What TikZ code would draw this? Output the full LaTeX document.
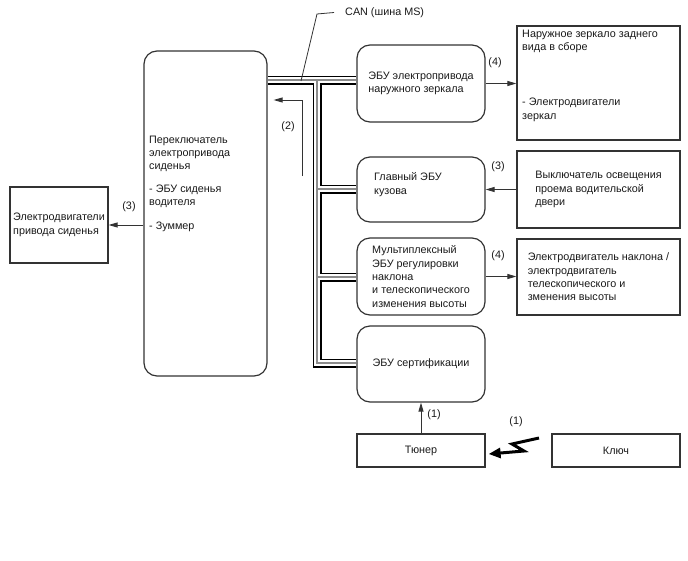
\documentclass[tikz,border=0pt]{standalone}
\usepackage{fontspec}
\setmainfont{Liberation Sans}
\usetikzlibrary{arrows.meta,backgrounds,calc}
\definecolor{LineGray}{HTML}{333333}
\definecolor{BusGray}{HTML}{8C8C8C}

\begin{document}
\begin{tikzpicture}[x=1pt, y=-1pt, line join=miter,
    every node/.style={font=\fontsize{10.8}{13.4}\selectfont, text=black!90, inner sep=0pt},
    ecu/.style={draw=LineGray, line width=1.2pt, rounded corners=13pt},
    part/.style={draw=LineGray, line width=1.2pt},
    sig/.style={draw=LineGray, line width=0.9pt, -{Triangle[length=9pt,width=5pt]}},
    bolt/.style={draw=black, line width=3pt, -{Triangle[length=12pt,width=10pt]}},
    canbus/.style={postaction={draw=black, line width=9pt},
                   postaction={draw=white, line width=5.5pt},
                   postaction={draw=BusGray, line width=1.2pt}}]
        \useasboundingbox (0,0) rectangle (688,560);

        % Boxes
        \node[ecu, minimum width=123pt, minimum height=325pt] (seatsw) at (205.5,213.5) {};
        \node[part, minimum width=98pt, minimum height=76pt, align=left] (seatmot) at (59,225) {Электродвигатели\\привода сиденья};
        \node[ecu, minimum width=128pt, minimum height=77pt, align=left] (mirecu) at (421,83.5) {ЭБУ электропривода\\наружного зеркала};
        \node[part, minimum width=163pt, minimum height=114pt] (mirror) at (598.5,83) {};
        \node[ecu, minimum width=128pt, minimum height=65pt] (bodyecu) at (421,189.5) {};
        \node[part, minimum width=163pt, minimum height=77pt, align=left] (doorsw) at (598.5,189.5) {Выключатель освещения\\проема водительской\\двери};
        \node[ecu, minimum width=128pt, minimum height=77pt, align=left] (tiltecu) at (421,276.5) {Мультиплексный\\ЭБУ регулировки\\наклона\\и телескопического\\изменения высоты};
        \node[part, minimum width=163pt, minimum height=76pt, align=left] (tiltmot) at (598.5,277) {Электродвигатель наклона /\\электродвигатель\\телескопического и\\зменения высоты};
        \node[ecu, minimum width=128pt, minimum height=76pt] (certecu) at (421,364) {ЭБУ сертификации};
        \node[part, minimum width=128pt, minimum height=33pt] (tuner) at (421,450.5) {Тюнер};
        \node[part, minimum width=128pt, minimum height=33pt] (key) at (616,450.5) {Ключ};

        % Texts placed inside the boxes
        \node[anchor=north west, align=left] (seatswtxt) at (149,135.5) {Переключатель\\электропривода\\сиденья\\[9pt]- ЭБУ сиденья\\водителя\\[10pt]- Зуммер};
        \node[anchor=north west, align=left] (mirrortxt) at (522,29.5) {Наружное зеркало заднего\\вида в сборе\\[42pt]- Электродвигатели\\зеркал};
        \node[anchor=north west, align=left] (bodyecutxt) at (374,172.5) {Главный ЭБУ\\кузова};

        % CAN bus
        \coordinate (busT) at (317,80);
        \coordinate (busB) at (317,363);
        \coordinate (busBody) at (317,189);
        \coordinate (busTilt) at (317,277);
        \begin{scope}[on background layer]
            \path[canbus] (seatsw.east |- busT) -- (mirecu.west |- busT)
                (busT) |- (certecu.west |- busB)
                (busBody) -- (bodyecu.west |- busBody)
                (busTilt) -- (tiltecu.west |- busTilt);
        \end{scope}
        \coordinate (canA) at (301,81);
        \coordinate (canB) at (317,14);
        \node[anchor=west] (canlbl) at (345,12.5) {CAN (шина MS)};
        \draw[LineGray, line width=0.8pt] (canA) -- (canB) -- ($(canlbl.west)+(-11,0)$);

        % Signals
        \draw[sig] (seatsw.west |- seatmot) -- (seatmot.east);
        \draw[sig] (mirecu.east) -- (mirecu.east -| mirror.west);
        \draw[sig] (doorsw.west) -- (bodyecu.east);
        \draw[sig] (tiltecu.east) -- (tiltecu.east -| tiltmot.west);
        \draw[sig] (tuner.north) -- (certecu.south);
        \coordinate (sig2) at (302,176);
        \coordinate (sig2top) at (302,100);
        \draw[sig, shorten >=6pt] (sig2) -- (sig2top) -- (sig2top -| seatsw.east);
        \coordinate (boltA) at (539,438);
        \coordinate (boltB) at (512,444);
        \coordinate (boltC) at (524,451);
        \draw[bolt] (boltA) -- (boltB) -- (boltC) -- ($(tuner.east)+(3,3.5)$);

        % Numbers
        \node (num3a) at (129,207) {(3)};
        \node (num2) at (288,127) {(2)};
        \node (num4a) at (495,63) {(4)};
        \node (num3b) at (498,167) {(3)};
        \node (num4b) at (498,256) {(4)};
        \node (num1a) at (434,415) {(1)};
        \node (num1b) at (516,422) {(1)};
    \end{tikzpicture}
\end{document}
